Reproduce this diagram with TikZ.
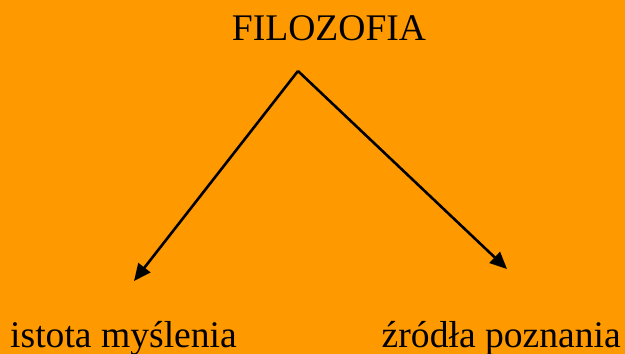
\documentclass[tikz,border=0pt]{standalone}
\usepackage{fontspec}
\setmainfont{Liberation Serif}
\usetikzlibrary{arrows.meta}
\definecolor{bg}{HTML}{FF9900}
\begin{document}
\begin{tikzpicture}[x=1pt,y=-1pt,
  lbl/.style={inner sep=0pt,font=\fontsize{37.6}{40}\selectfont},
  conn/.style={line width=2.6pt,-{Triangle[length=17pt,width=15pt]}}]
\fill[bg] (0,0) rectangle (625,354);
\useasboundingbox (0,0) rectangle (625,354);
\node[lbl,anchor=base] (top) at (329,40) {FILOZOFIA};
\node[lbl,anchor=base west] (left) at (10,347) {istota myślenia};
\node[lbl,anchor=base east] (right) at (621,347) {źródła poznania};
\coordinate (apex) at (298,71);
\coordinate (lend) at (134,281);
\coordinate (rend) at (507,269);
\draw[conn] (apex) -- (lend);
\draw[conn] (apex) -- (rend);
\end{tikzpicture}
\end{document}
